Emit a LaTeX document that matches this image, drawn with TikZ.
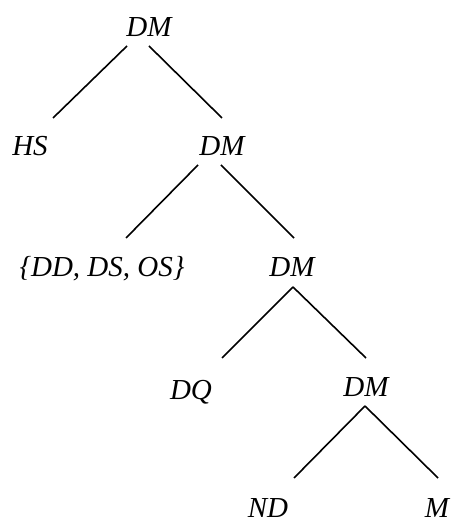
\documentclass[tikz,border=0pt]{standalone}
\usepackage{fontspec}
\setmainfont{Liberation Serif}
\begin{document}
\begin{tikzpicture}[x=1bp,y=1bp,
  lab/.style={anchor=base,inner sep=0pt,font=\itshape\fontsize{29bp}{31bp}\selectfont},
  edge/.style={line width=1.6bp}]
\useasboundingbox (0,0) rectangle (452,517);
\node[lab] (dm1) at (149,480) {DM};
\node[lab] (hs) at (30,361) {HS};
\node[lab] (dm2) at (222,361) {DM};
\node[lab] (dd) at (102,240) {\{DD, DS, OS\}};
\node[lab] (dm3) at (292,240) {DM};
\node[lab] (dq) at (191,117) {DQ};
\node[lab] (dm4) at (366,120) {DM};
\node[lab] (nd) at (268,0) {ND};
\node[lab] (m) at (437,0) {M};
\draw[edge] ([shift={(-22,-9)}]dm1.base) -- ([shift={(23,38)}]hs.base);
\draw[edge] ([shift={(0,-9)}]dm1.base) -- ([shift={(0,38)}]dm2.base);
\draw[edge] ([shift={(-24,-9)}]dm2.base) -- ([shift={(24,39)}]dd.base);
\draw[edge] ([shift={(-1,-9)}]dm2.base) -- ([shift={(2,39)}]dm3.base);
\draw[edge] ([shift={(1,-10)}]dm3.base) -- ([shift={(31,42)}]dq.base);
\draw[edge] ([shift={(1,-10)}]dm3.base) -- ([shift={(0,39)}]dm4.base);
\draw[edge] ([shift={(-1,-9)}]dm4.base) -- ([shift={(26,39)}]nd.base);
\draw[edge] ([shift={(-1,-9)}]dm4.base) -- ([shift={(1,39)}]m.base);
\end{tikzpicture}
\end{document}
